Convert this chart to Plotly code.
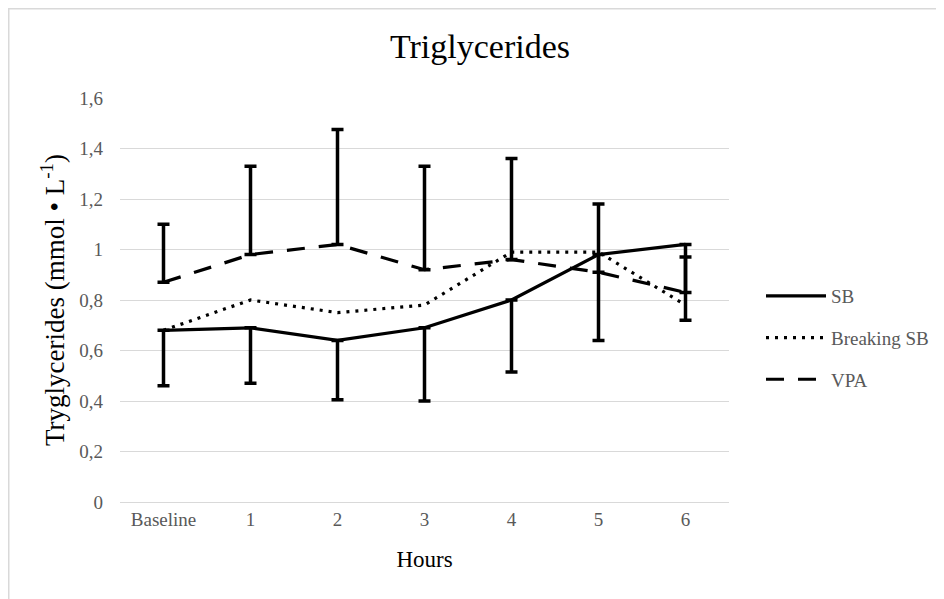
import plotly.graph_objects as go

categories = ["Baseline", "1", "2", "3", "4", "5", "6"]
sb = [0.68, 0.69, 0.64, 0.69, 0.80, 0.98, 1.02]
sb_err_minus = [0.22, 0.22, 0.235, 0.29, 0.285, 0.34, 0.30]
breaking_sb = [0.68, 0.80, 0.75, 0.78, 0.99, 0.99, 0.78]
vpa = [0.87, 0.98, 1.02, 0.92, 0.96, 0.91, 0.83]
vpa_err_plus = [0.23, 0.35, 0.455, 0.41, 0.40, 0.27, 0.14]
y_ticks = [0, 0.2, 0.4, 0.6, 0.8, 1.0, 1.2, 1.4, 1.6]
y_tick_labels = ["0", "0,2", "0,4", "0,6", "0,8", "1", "1,2", "1,4", "1,6"]

zeros = [0] * len(categories)

# plot area in figure pixels
L, R, T, B = 112, 721, 90, 494
W, H = R - L, B - T

fig = go.Figure()
fig.add_trace(go.Scatter(
    x=categories, y=sb, name="SB", mode="lines", legendgroup="a",
    line=dict(color="black", width=3.2),
    error_y=dict(type="data", symmetric=False, array=zeros, arrayminus=sb_err_minus,
                 color="black", thickness=3.5, width=6),
))
fig.add_trace(go.Scatter(
    x=categories, y=breaking_sb, name="Breaking SB", mode="lines", legendgroup="b",
    line=dict(color="black", width=3.2, dash="3px,6px"),
))
fig.add_trace(go.Scatter(
    x=categories, y=vpa, name="VPA", mode="lines", legendgroup="c",
    line=dict(color="black", width=3.2, dash="18px,14px"),
    error_y=dict(type="data", symmetric=False, array=vpa_err_plus, arrayminus=zeros,
                 color="black", thickness=3.5, width=6),
))

fig.update_layout(
    width=944, height=599,
    paper_bgcolor="white", plot_bgcolor="white",
    margin=dict(l=L, r=944 - R, t=T, b=599 - B),
    title=dict(text="Triglycerides", x=0.5, xanchor="center", xref="container",
               y=1 - 38 / 599, yanchor="middle", yref="container",
               font=dict(family="Liberation Serif", size=34, color="black")),
    font=dict(family="Liberation Serif", color="#595959"),
    legend=dict(x=(753 - L) / W, y=(B - 330) / H, xanchor="left", yanchor="middle",
                itemwidth=60,
                font=dict(family="Liberation Serif", size=19, color="#595959"),
                tracegroupgap=14, bgcolor="rgba(0,0,0,0)"),
    showlegend=True,
    shapes=[dict(type="rect", xref="paper", yref="paper",
                 x0=(0.75 - L) / W, x1=(943.25 - L) / W,
                 y0=(B - 598.25) / H, y1=(B - 0.75) / H,
                 line=dict(color="#d9d9d9", width=1.5), layer="below")],
)
fig.update_xaxes(
    type="category", range=[-0.5, 6.5],
    showgrid=False, showline=True, linecolor="#d9d9d9", linewidth=1.2,
    ticks="", tickfont=dict(family="Liberation Serif", size=19, color="#595959"),
    ticklabelstandoff=0,
    title=dict(text="Hours", font=dict(family="Liberation Serif", size=23, color="black"),
               standoff=21),
)
fig.update_yaxes(
    range=[0, 1.6], tickvals=y_ticks, ticktext=y_tick_labels,
    showgrid=True, gridcolor="#d9d9d9", gridwidth=1.2, zeroline=False,
    showline=False, ticks="",
    tickfont=dict(family="Liberation Serif", size=19, color="#595959"),
    ticklabelstandoff=16,
    title=dict(text="Tryglycerides (mmol • L<sup>-1</sup>)",
               font=dict(family="Liberation Serif", size=27, color="black"), standoff=6),
)

fig.write_html("out.html")
